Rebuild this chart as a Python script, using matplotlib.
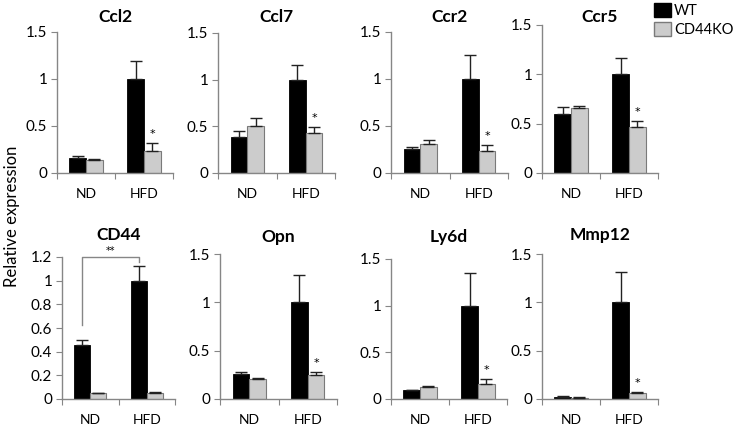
import matplotlib
matplotlib.use("Agg")
import matplotlib.pyplot as plt
from matplotlib.patches import Patch
from matplotlib.ticker import FormatStrFormatter

plt.rcParams["font.family"] = ["Lato", "DejaVu Sans"]

genes = ["Ccl2", "Ccl7", "Ccr2", "Ccr5", "CD44", "Opn", "Ly6d", "Mmp12"]
groups = ["ND", "HFD"]
series = ["WT", "CD44KO"]

# mean values [ND, HFD]
wt_mean = {
    "Ccl2": [0.157, 1.0], "Ccl7": [0.39, 1.0], "Ccr2": [0.254, 1.0], "Ccr5": [0.60, 1.0],
    "CD44": [0.46, 1.0], "Opn": [0.255, 1.0], "Ly6d": [0.093, 1.0], "Mmp12": [0.024, 1.0],
}
ko_mean = {
    "Ccl2": [0.134, 0.237], "Ccl7": [0.505, 0.427], "Ccr2": [0.307, 0.233], "Ccr5": [0.655, 0.466],
    "CD44": [0.048, 0.048], "Opn": [0.204, 0.246], "Ly6d": [0.129, 0.16], "Mmp12": [0.014, 0.059],
}
# upper error (SEM)
wt_err = {
    "Ccl2": [0.02, 0.195], "Ccl7": [0.055, 0.16], "Ccr2": [0.026, 0.26], "Ccr5": [0.066, 0.165],
    "CD44": [0.04, 0.12], "Opn": [0.022, 0.28], "Ly6d": [0.007, 0.345], "Mmp12": [0.011, 0.31],
}
ko_err = {
    "Ccl2": [0.02, 0.078], "Ccl7": [0.085, 0.068], "Ccr2": [0.043, 0.064], "Ccr5": [0.02, 0.064],
    "CD44": [0.005, 0.007], "Opn": [0.016, 0.031], "Ly6d": [0.01, 0.054], "Mmp12": [0.003, 0.01],
}
ymax = {"CD44": 1.2}
ystep = {"CD44": 0.2}

# axes boxes in pixels: left, right, top (y of max tick), bottom (y of zero)
boxes = [
    (57, 173, 32, 173), (218, 335, 33, 173), (391, 508, 32, 173), (542, 658, 25, 173),
    (62, 175, 257, 399), (220, 337, 254, 399), (391, 507, 259, 399), (542, 658, 254, 399),
]
title_y = [17, 17, 17, 17, 235, 237, 237, 235]

W, H = 733, 425
fig = plt.figure(figsize=(W / 100, H / 100), dpi=100)

grey = "#868686"
ko_col = "#cccccc"
bw = 0.286

for gene, (l, r, t, b), ty in zip(genes, boxes, title_y):
    ax = fig.add_axes([l / W, 1 - b / H, (r - l) / W, (b - t) / H])
    x = [0, 1]
    ax.bar([i - bw / 2 for i in x], wt_mean[gene], bw, color="black", edgecolor="black", linewidth=0.6, zorder=2)
    ax.bar([i + bw / 2 for i in x], ko_mean[gene], bw, color=ko_col, edgecolor="#7a7a7a", linewidth=0.8, zorder=2)
    ax.errorbar([i - bw / 2 for i in x], wt_mean[gene], yerr=[[0, 0], wt_err[gene]], fmt="none",
                ecolor="#222222", elinewidth=1, capsize=4, capthick=1, zorder=3)
    ax.errorbar([i + bw / 2 for i in x], ko_mean[gene], yerr=[[0, 0], ko_err[gene]], fmt="none",
                ecolor="#222222", elinewidth=1, capsize=4, capthick=1, zorder=3)

    top = ymax.get(gene, 1.5)
    step = ystep.get(gene, 0.5)
    ax.set_ylim(0, top)
    ax.set_xlim(-0.5, 1.5)
    ax.set_yticks([step * k for k in range(int(round(top / step)) + 1)])
    ax.yaxis.set_major_formatter(FormatStrFormatter("%g"))
    ax.set_xticks([-0.5, 0.5, 1.5])
    ax.set_xticklabels([])
    ax.set_xticks(x, minor=True)
    ax.set_xticklabels(groups, minor=True)
    ax.tick_params(axis="x", which="minor", length=0, pad=11, labelsize=10)
    ax.tick_params(axis="x", which="major", length=4, color=grey, direction="out")
    ax.tick_params(axis="y", length=4, color=grey, labelsize=11, pad=3)
    for s in ["top", "right"]:
        ax.spines[s].set_visible(False)
    for s in ["left", "bottom"]:
        ax.spines[s].set_color(grey)
        ax.spines[s].set_linewidth(1)

    fig.text((l + r) / 2 / W, 1 - ty / H, gene, ha="center", va="center", fontsize=12.5, fontweight="bold")

    if gene == "CD44":
        x0, x1 = -bw / 2, 1 - bw / 2
        ax.plot([x0, x0, x1, x1], [0.625, top, top, 1.16], color=grey, linewidth=1, clip_on=False)
        ax.annotate("**", (0.5 - bw / 2, top), xytext=(0, 1), textcoords="offset points",
                    ha="center", va="bottom", fontsize=7, family="DejaVu Sans", annotation_clip=False)
    else:
        yt = ko_mean[gene][1] + ko_err[gene][1]
        ax.annotate("*", (1 + bw / 2, yt), xytext=(0, 3), textcoords="offset points",
                    ha="center", va="bottom", fontsize=8, family="DejaVu Sans")

fig.text(12 / W, 1 - 216 / H, "Relative expression", rotation=90, ha="center", va="center", fontsize=12)

handles = [Patch(facecolor="black", edgecolor="black"), Patch(facecolor=ko_col, edgecolor="#7a7a7a")]
fig.legend(handles, series, loc="upper left", bbox_to_anchor=(653 / W, 1 - 2 / H), frameon=False,
           fontsize=10.5, handlelength=1.1, handleheight=1.1, handletextpad=0.25, labelspacing=0.25,
           borderpad=0.1, borderaxespad=0)

fig.savefig("out.png", dpi=100)
